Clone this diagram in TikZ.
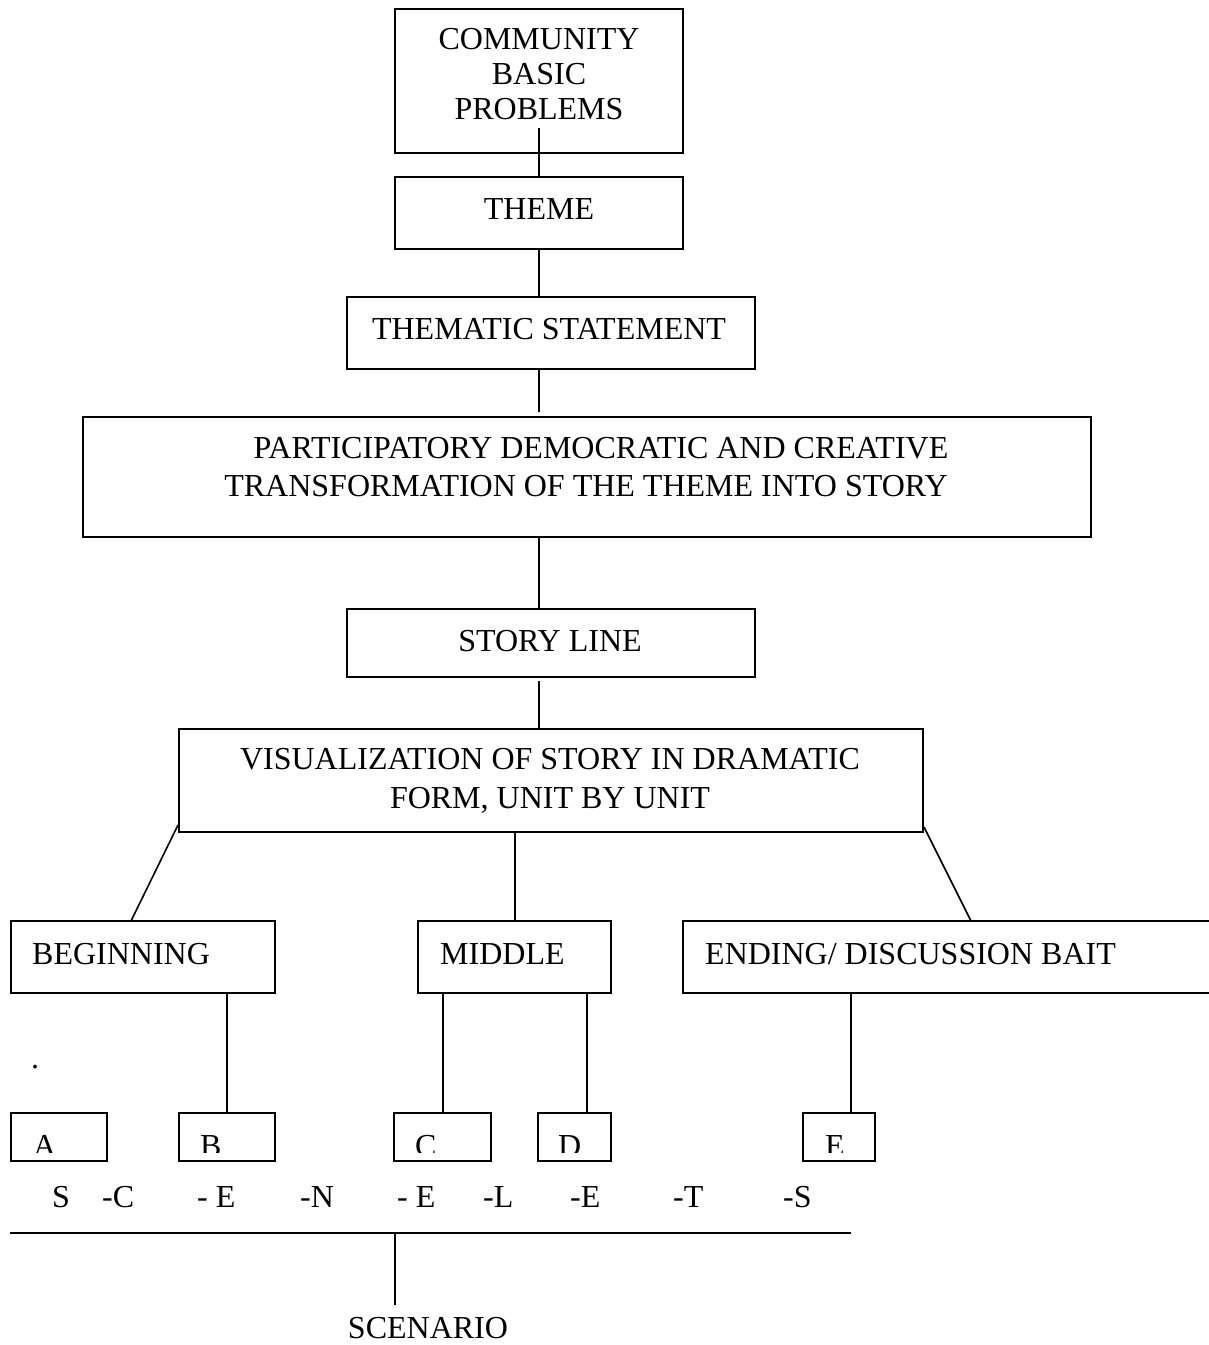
\documentclass[tikz,border=0pt]{standalone}
\usepackage{fontspec}
\setmainfont{Liberation Serif}
\usetikzlibrary{fit}
\begin{document}
\begin{tikzpicture}[x=1pt,y=-1pt,
  box/.style={draw, line width=1.6pt, inner sep=0pt, outer sep=0pt},
  conn/.style={line width=1.6pt},
  txt/.style={font=\fontsize{32}{38}\selectfont, inner sep=0pt, anchor=base},
  txtl/.style={txt, anchor=base west}]
\useasboundingbox (0,0) rectangle (1209,1345);

% boxes
\node[box, fit={(395,9) (683,153)}] (comm) {};
\node[box, fit={(395,177) (683,249)}] (theme) {};
\node[box, fit={(347,297) (755,369)}] (stmt) {};
\node[box, fit={(83,417) (1091,537)}] (part) {};
\node[box, fit={(347,609) (755,677)}] (story) {};
\node[box, fit={(179,729) (923,832)}] (vis) {};
\node[box, fit={(11,921) (275,993)}] (beg) {};
\node[box, fit={(418,921) (611,993)}] (mid) {};
\node[box, fit={(683,921) (1212,993)}] (endb) {};
\node[box, fit={(11,1113) (107,1161)}] (ba) {};
\node[box, fit={(179,1113) (275,1161)}] (bb) {};
\node[box, fit={(394,1113) (491,1161)}] (bc) {};
\node[box, fit={(538,1113) (611,1161)}] (bd) {};
\node[box, fit={(803,1113) (875,1161)}] (be) {};

% texts
\node[txt] (t1a) at (539,49) {COMMUNITY};
\node[txt] (t1b) at (539,84) {BASIC};
\node[txt] (t1c) at (539,119) {PROBLEMS};
\node[txt] (t2) at (539,219) {THEME};
\node[txt] (t3) at (549,339) {THEMATIC STATEMENT};
\node[txt] (t4a) at (601,458) {PARTICIPATORY DEMOCRATIC AND CREATIVE};
\node[txt] (t4b) at (586,496) {TRANSFORMATION OF THE THEME INTO STORY};
\node[txt] (t5) at (550,651) {STORY LINE};
\node[txt] (t6a) at (550,769) {VISUALIZATION OF STORY IN DRAMATIC};
\node[txt] (t6b) at (550,808) {FORM, UNIT BY UNIT};
\node[txtl] (t7) at (32,964) {BEGINNING};
\node[txtl] (t8) at (440,964) {MIDDLE};
\node[txtl] (t9) at (705,964) {ENDING/ DISCUSSION BAIT};
\node[txt] (dot) at (35,1068) {.};

% clipped letters in the small boxes
\begin{scope}\clip (11,1113) rectangle (107,1152);
\node[txtl] (la) at (33,1156) {A};\end{scope}
\begin{scope}\clip (179,1113) rectangle (275,1152);
\node[txtl] (lb) at (200,1156) {B};\end{scope}
\begin{scope}\clip (394,1113) rectangle (491,1152);
\node[txtl] (lc) at (415,1156) {C};\end{scope}
\begin{scope}\clip (538,1113) rectangle (611,1152);
\node[txtl] (ld) at (558,1156) {D};\end{scope}
\begin{scope}\clip (803,1113) rectangle (875,1152);
\node[txtl] (le) at (825,1156) {E};\end{scope}

% scenelets row
\node[txtl] (s1) at (52,1207) {S};
\node[txtl] (s2) at (102,1207) {-C};
\node[txtl] (s3) at (197,1207) {- E};
\node[txtl] (s4) at (300,1207) {-N};
\node[txtl] (s5) at (397,1207) {- E};
\node[txtl] (s6) at (483,1207) {-L};
\node[txtl] (s7) at (570,1207) {-E};
\node[txtl] (s8) at (673,1207) {-T};
\node[txtl] (s9) at (783,1207) {-S};

\node[txt] (scen) at (428,1338) {SCENARIO};

% connectors
\coordinate (c1) at (539,128);
\draw[conn] (c1) -- (c1 |- theme.north);
\draw[conn] (theme.south -| c1) -- (stmt.north -| c1);
\coordinate (c2) at (539,412);
\draw[conn] (stmt.south -| c1) -- (c2);
\draw[conn] (part.south -| c1) -- (story.north -| c1);
\coordinate (c3) at (539,681);
\draw[conn] (c3) -- (vis.north -| c1);

\coordinate (v1) at (178,825);
\coordinate (g1) at (131,921);
\draw[conn] (v1) -- (g1);
\coordinate (v2) at (515,832);
\draw[conn] (v2) -- (v2 |- mid.north);
\coordinate (v3) at (924,827);
\coordinate (g3) at (971,921);
\draw[conn] (v3) -- (g3);

\coordinate (xb) at (227,0);
\draw[conn] (beg.south -| xb) -- (bb.north -| xb);
\coordinate (xc) at (443,0);
\draw[conn] (mid.south -| xc) -- (bc.north -| xc);
\coordinate (xd) at (587,0);
\draw[conn] (mid.south -| xd) -- (bd.north -| xd);
\coordinate (xe) at (851,0);
\draw[conn] (endb.south -| xe) -- (be.north -| xe);

\coordinate (h1) at (10,1233);
\coordinate (h2) at (851,1233);
\draw[conn] (h1) -- (h2);
\coordinate (hv) at (395,1233);
\coordinate (hs) at (395,1305);
\draw[conn] (hv) -- (hs);
\end{tikzpicture}
\end{document}
